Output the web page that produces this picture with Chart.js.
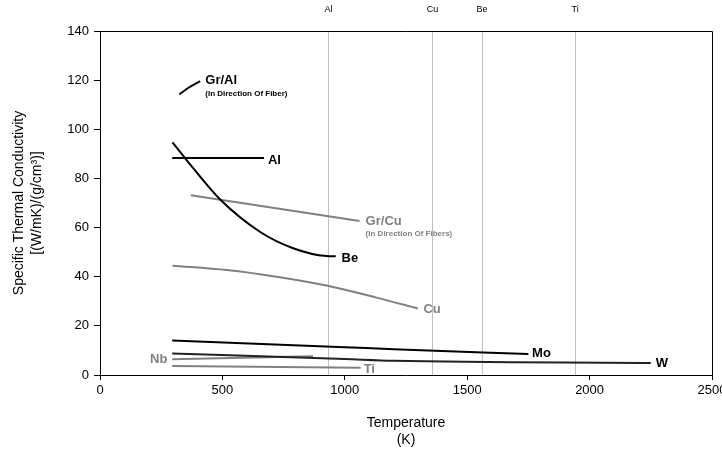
<!DOCTYPE html>
<html>
<head>
<meta charset="utf-8">
<script src="https://cdn.jsdelivr.net/npm/chart.js@4"></script>
<style>
  html, body { margin: 0; padding: 0; background: #fff; }
  #wrap { width: 722px; height: 452px; }
</style>
</head>
<body>
<div id="wrap"><canvas id="chart" width="722" height="452"></canvas></div>
<script>
// temperature (K) and specific conductivity for each material
const grAlT = [324, 360, 409];
const grAlK = [114.2, 116.8, 119.6];
const alT = [295, 670];
const alK = [88.3, 88.3];
const beT = [296, 348, 490, 653, 789, 925, 963];
const beK = [94.7, 88.2, 71.5, 58.3, 51.6, 48.4, 48.3];
const grCuT = [371, 1060];
const grCuK = [73.2, 62.7];
const cuT = [296, 518, 721, 925, 1129, 1298];
const cuK = [44.5, 42.7, 40.0, 36.4, 31.5, 27.1];
const moT = [295, 1000, 1200, 1750];
const moK = [14, 11.3, 10.5, 8.5];
const wT = [295, 1000, 1200, 2250];
const wK = [8.8, 6.5, 5.8, 4.9];
const nbT = [295, 870];
const nbK = [6.4, 7.6];
const tiT = [295, 1065];
const tiK = [3.7, 2.9];

// melting points marked along the top
const meltNames = ["Al", "Cu", "Be", "Ti"];
const meltTemps = [933, 1358, 1560, 1941];

const xTicks = [0, 500, 1000, 1500, 2000, 2500];
const yTicks = [0, 20, 40, 60, 80, 100, 120, 140];

const BLACK = "#000000";
const GRAY = "#808080";
const FONT = "'Liberation Sans', Arial, sans-serif";

function pts(xs, ys) {
  return xs.map((x, i) => ({ x: x, y: ys[i] }));
}

function series(label, xs, ys, color, width, smooth) {
  return {
    label: label,
    data: pts(xs, ys),
    borderColor: color,
    backgroundColor: color,
    borderWidth: width,
    showLine: true,
    pointRadius: 0,
    tension: smooth ? 0.4 : 0,
    cubicInterpolationMode: smooth ? "monotone" : "default",
  };
}

// text labels placed at data coordinates
const labels = [
  { t: "Gr/Al", x: 430, y: 120, c: BLACK, s: 13 },
  { t: "(In Direction Of Fiber)", x: 430, y: 114.4, c: BLACK, s: 8 },
  { t: "Al", x: 686, y: 87.5, c: BLACK, s: 13 },
  { t: "Gr/Cu", x: 1085, y: 62.7, c: GRAY, s: 13 },
  { t: "(In Direction Of Fibers)", x: 1085, y: 57.4, c: GRAY, s: 8 },
  { t: "Be", x: 987, y: 47.6, c: BLACK, s: 13 },
  { t: "Cu", x: 1321, y: 26.5, c: GRAY, s: 13 },
  { t: "Mo", x: 1765, y: 8.9, c: BLACK, s: 13 },
  { t: "W", x: 2270, y: 4.9, c: BLACK, s: 13 },
  { t: "Nb", x: 275, y: 6.5, c: GRAY, s: 13, right: true },
  { t: "Ti", x: 1077, y: 2.4, c: GRAY, s: 13 },
];

const decor = {
  id: "decor",
  beforeDatasetsDraw(chart) {
    const { ctx, chartArea: a, scales } = chart;
    ctx.save();
    ctx.strokeStyle = "#c0c0c0";
    ctx.lineWidth = 1;
    meltTemps.forEach((t) => {
      const px = Math.round(scales.x.getPixelForValue(t)) + 0.5;
      ctx.beginPath();
      ctx.moveTo(px, a.top);
      ctx.lineTo(px, a.bottom);
      ctx.stroke();
    });
    ctx.restore();
  },
  afterDraw(chart) {
    const { ctx, chartArea: a, scales } = chart;
    ctx.save();
    // frame on top and right
    ctx.strokeStyle = "#000";
    ctx.lineWidth = 1;
    ctx.beginPath();
    ctx.moveTo(a.left, a.top + 0.5);
    ctx.lineTo(a.right + 0.5, a.top + 0.5);
    ctx.lineTo(a.right + 0.5, a.bottom);
    ctx.stroke();

    // melting point names
    ctx.fillStyle = "#000";
    ctx.font = "9px " + FONT;
    ctx.textAlign = "center";
    ctx.textBaseline = "middle";
    meltTemps.forEach((t, i) => {
      ctx.fillText(meltNames[i], scales.x.getPixelForValue(t), 10);
    });

    // curve labels
    ctx.textBaseline = "middle";
    labels.forEach((l) => {
      ctx.font = "bold " + l.s + "px " + FONT;
      ctx.fillStyle = l.c;
      ctx.textAlign = l.right ? "right" : "left";
      ctx.fillText(l.t, scales.x.getPixelForValue(l.x), scales.y.getPixelForValue(l.y));
    });

    // axis titles
    ctx.fillStyle = "#000";
    ctx.font = "14px " + FONT;
    ctx.textAlign = "center";
    const cx = (a.left + a.right) / 2;
    ctx.fillText("Temperature", cx, 423);
    ctx.fillText("(K)", cx, 440);
    const cy = (a.top + a.bottom) / 2;
    ctx.translate(19, cy);
    ctx.rotate(-Math.PI / 2);
    ctx.fillText("Specific Thermal Conductivity", 0, 0);
    ctx.fillText("[(W/mK)/(g/cm\u00B3)]", 0, 18);
    ctx.restore();
  },
};

new Chart(document.getElementById("chart").getContext("2d"), {
  type: "scatter",
  data: {
    datasets: [
      series("Gr/Al", grAlT, grAlK, BLACK, 2, true),
      series("Al", alT, alK, BLACK, 2, false),
      series("Be", beT, beK, BLACK, 2, true),
      series("Gr/Cu", grCuT, grCuK, GRAY, 2, false),
      series("Cu", cuT, cuK, GRAY, 2, true),
      series("Mo", moT, moK, BLACK, 2, true),
      series("W", wT, wK, "#222", 2, true),
      series("Nb", nbT, nbK, GRAY, 2, false),
      series("Ti", tiT, tiK, GRAY, 2, false),
    ],
  },
  options: {
    responsive: false,
    animation: false,
    layout: { padding: { top: 31, right: 10, left: 0, bottom: 0 } },
    plugins: {
      legend: { display: false },
      tooltip: { enabled: false },
    },
    scales: {
      x: {
        type: "linear",
        min: 0,
        max: 2500,
        afterBuildTicks: (s) => { s.ticks = xTicks.map((v) => ({ value: v })); },
        afterFit: (s) => {
          s.height = 77;
          s.paddingLeft = 0;
          s.paddingRight = 0;
        },
        grid: { drawOnChartArea: false, tickLength: 5, color: "#000" },
        border: { color: "#000", width: 1 },
        ticks: {
          color: "#000",
          font: { family: FONT, size: 13 },
          padding: 3,
          maxRotation: 0,
          callback: (v) => String(v),
        },
      },
      y: {
        type: "linear",
        min: 0,
        max: 140,
        afterBuildTicks: (s) => { s.ticks = yTicks.map((v) => ({ value: v })); },
        afterFit: (s) => { s.width = 100; },
        grid: { drawOnChartArea: false, tickLength: 6, color: "#000" },
        border: { color: "#000", width: 1 },
        ticks: { color: "#000", font: { family: FONT, size: 13 }, padding: 5 },
      },
    },
  },
  plugins: [decor],
});
</script>
</body>
</html>
